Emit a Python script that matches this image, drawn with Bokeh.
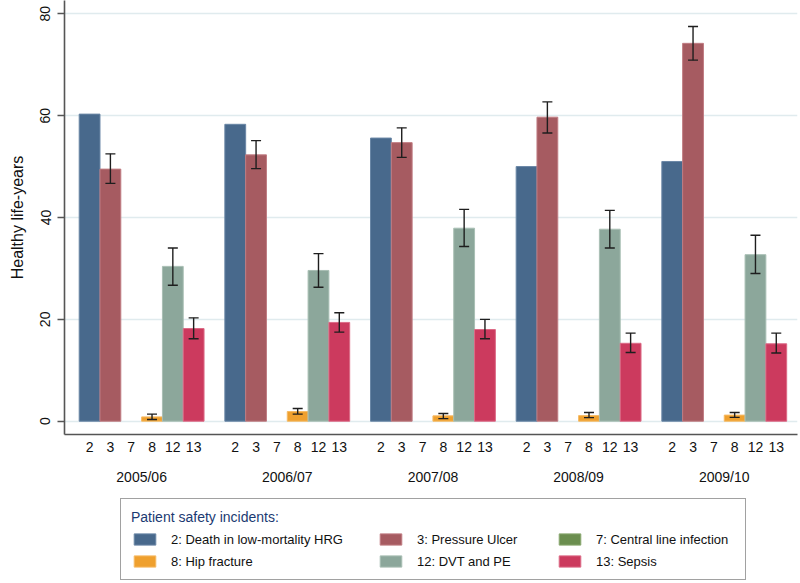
from bokeh.plotting import figure
from bokeh.layouts import column
from bokeh.models import (ColumnDataSource, Range1d, LinearAxis, FixedTicker, Legend,
                          LegendItem, Whisker, TeeHead)
from bokeh.embed import file_html
from bokeh.resources import INLINE

# ---------------- data ----------------
years = ["2005/06", "2006/07", "2007/08", "2008/09", "2009/10"]
codes = ["2", "3", "7", "8", "12", "13"]
series_names = ["2: Death in low-mortality HRG", "3: Pressure Ulcer", "7: Central line infection",
                "8: Hip fracture", "12: DVT and PE", "13: Sepsis"]
NA = float("nan")
death = [60.3, 58.3, 55.6, 50.0, 51.0]
pressure = [49.5, 52.3, 54.7, 59.7, 74.2]
pressure_lo = [46.7, 49.6, 51.8, 56.6, 70.9]
pressure_hi = [52.5, 55.1, 57.6, 62.7, 77.5]
central = [NA, NA, NA, NA, NA]
hip = [0.85, 1.9, 1.05, 1.1, 1.2]
hip_lo = [0.35, 1.4, 0.5, 0.7, 0.75]
hip_hi = [1.4, 2.5, 1.5, 1.7, 1.7]
dvt = [30.4, 29.6, 37.9, 37.7, 32.7]
dvt_lo = [26.7, 26.3, 34.3, 34.0, 29.0]
dvt_hi = [34.0, 32.9, 41.6, 41.4, 36.5]
sepsis = [18.2, 19.4, 18.0, 15.3, 15.2]
sepsis_lo = [16.2, 17.5, 16.2, 13.5, 13.4]
sepsis_hi = [20.3, 21.3, 20.0, 17.3, 17.3]
y_ticks = [0, 20, 40, 60, 80]

values = [death, pressure, central, hip, dvt, sepsis]
lows = [None, pressure_lo, None, hip_lo, dvt_lo, sepsis_lo]
highs = [None, pressure_hi, None, hip_hi, dvt_hi, sepsis_hi]
fills = ["#48698c", "#a65b61", "#6b8e4f", "#efa02e", "#8ca79b", "#cc3a5e"]
edges = ["#6a87a6", "#c07c82", "#8aa870", "#f6bb66", "#a9bfb4", "#dc6a86"]

FONT = "Liberation Sans"
TXT = "#111111"
AXC = "#555555"
slots = len(codes) + 1  # one empty slot between groups

p = figure(width=800, height=490, output_backend="svg", toolbar_location=None,
           x_range=Range1d(-0.706, 34.52), y_range=Range1d(-2.61, 82.61),
           min_border_left=64, min_border_right=3, min_border_top=0, min_border_bottom=56,
           x_axis_location=None)
p.outline_line_color = None
p.background_fill_color = "white"
p.border_fill_color = "white"

renderers = []
for j, (vals, lo, hi) in enumerate(zip(values, lows, highs)):
    xs = [slots * i + j + 0.5 for i in range(len(years))]
    src = ColumnDataSource(dict(x=xs, top=vals))
    r = p.vbar(x="x", top="top", bottom=0, width=1.0, source=src,
               fill_color=fills[j], line_color=edges[j], line_width=1)
    renderers.append(r)
    if lo is not None:
        wsrc = ColumnDataSource(dict(x=xs, lo=lo, hi=hi))
        w = Whisker(source=wsrc, base="x", lower="lo", upper="hi", level="overlay",
                    line_color="#1e1e1e", line_width=1.4,
                    upper_head=TeeHead(size=10, line_color="#1e1e1e", line_width=1.4),
                    lower_head=TeeHead(size=10, line_color="#1e1e1e", line_width=1.4))
        p.add_layout(w)

# y axis
p.yaxis.ticker = FixedTicker(ticks=y_ticks)
p.yaxis.axis_label = "Healthy life-years"
p.yaxis.axis_label_text_font = FONT
p.yaxis.axis_label_text_font_size = "16px"
p.yaxis.axis_label_text_font_style = "normal"
p.yaxis.axis_label_text_color = TXT
p.yaxis.axis_label_standoff = 12
p.yaxis.major_label_orientation = "vertical"
p.yaxis.major_label_text_font = FONT
p.yaxis.major_label_text_font_size = "14px"
p.yaxis.major_label_text_color = TXT
p.yaxis.major_label_standoff = 7
p.yaxis.axis_line_color = AXC
p.yaxis.axis_line_width = 1.6
p.yaxis.major_tick_line_color = AXC
p.yaxis.major_tick_line_width = 1.4
p.yaxis.major_tick_out = 7
p.yaxis.major_tick_in = 0
p.yaxis.minor_tick_line_color = None

p.ygrid.ticker = FixedTicker(ticks=y_ticks)
p.ygrid.grid_line_color = "#e0ebee"
p.ygrid.grid_line_width = 1.6
p.xgrid.visible = False

# x axis: bar codes
bar_ticks = [slots * i + j + 0.5 for i in range(len(years)) for j in range(len(codes))]
bar_over = {t: codes[k % len(codes)] for k, t in enumerate(bar_ticks)}
ax1 = LinearAxis(ticker=FixedTicker(ticks=bar_ticks), major_label_overrides=bar_over)
ax1.axis_line_color = AXC
ax1.axis_line_width = 1.6
ax1.major_tick_line_color = None
ax1.minor_tick_line_color = None
ax1.major_tick_out = 0
ax1.major_label_standoff = 7
ax1.major_label_text_font = FONT
ax1.major_label_text_font_size = "14px"
ax1.major_label_text_color = TXT
p.add_layout(ax1, "below")

# x axis: years
grp_ticks = [slots * i + len(codes) / 2 for i in range(len(years))]
grp_over = {t: years[i] for i, t in enumerate(grp_ticks)}
ax2 = LinearAxis(ticker=FixedTicker(ticks=grp_ticks), major_label_overrides=grp_over)
ax2.axis_line_color = None
ax2.major_tick_line_color = None
ax2.minor_tick_line_color = None
ax2.major_tick_out = 0
ax2.major_label_standoff = 14
ax2.major_label_text_font = FONT
ax2.major_label_text_font_size = "14px"
ax2.major_label_text_color = TXT
p.add_layout(ax2, "below")

# ---------------- legend panel ----------------
q = figure(width=800, height=93, output_backend="svg", toolbar_location=None,
           x_range=Range1d(0, 1), y_range=Range1d(0, 1), min_border=0,
           x_axis_location=None, y_axis_location=None)
q.outline_line_color = None
q.xgrid.visible = False
q.ygrid.visible = False
q.background_fill_color = "white"
q.border_fill_color = "white"
legend_rs = []
for j in range(len(series_names)):
    legend_rs.append(q.vbar(x=[NA], top=[NA], width=1.0, fill_color=fills[j],
                            line_color=edges[j], line_width=1))

common = dict(label_text_font=FONT, label_text_font_size="13px", label_text_color=TXT,
              glyph_width=27, glyph_height=14, label_height=16, label_standoff=13,
              spacing=6, padding=10, margin=0, orientation="vertical")
# column order in the legend box: (2, 8), (3, 12), (7, 13)
cols = [[0, 3], [1, 4], [2, 5]]
col_x = [56, 313, 492]
col_y = [3, 14, 14]

leg_a = Legend(items=[LegendItem(label=series_names[k], renderers=[legend_rs[k]]) for k in cols[0]],
               location=(col_x[0], col_y[0]), title="Patient safety incidents:", title_text_font=FONT,
               title_text_font_size="14px", title_text_color="#1b3a72",
               title_text_font_style="normal", title_standoff=6, label_width=564,
               border_line_color="#444444", border_line_width=1.3,
               background_fill_color="white", background_fill_alpha=1.0, **common)
q.add_layout(leg_a, "center")
for c in (1, 2):
    leg = Legend(items=[LegendItem(label=series_names[k], renderers=[legend_rs[k]]) for k in cols[c]],
                 location=(col_x[c], col_y[c]), border_line_color=None, background_fill_alpha=0.0,
                 **common)
    q.add_layout(leg, "center")

open("out.html", "w").write(file_html(column(p, q, spacing=0), INLINE))
